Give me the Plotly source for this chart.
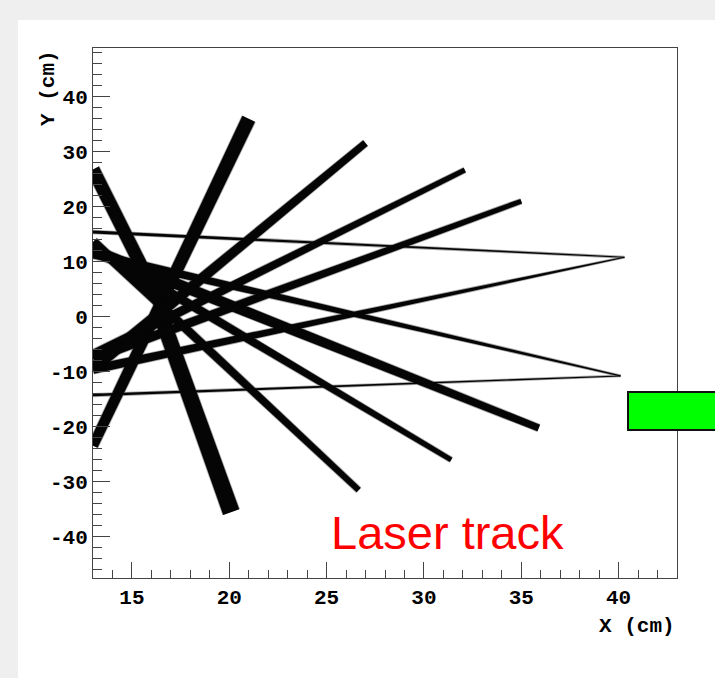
import numpy as np
import plotly.graph_objects as go

# ---------------- data (cm) ----------------
X_RANGE = [13.0, 43.0]
Y_RANGE = [-47.6, 48.9]

X_TICKS = [15, 20, 25, 30, 35, 40]
X_TICK_LABELS = ["15", "20", "25", "30", "35", "40"]
Y_TICKS = [-40, -30, -20, -10, 0, 10, 20, 30, 40]
Y_TICK_LABELS = ["-40", "-30", "-20", "-10", "0", "10", "20", "30", "40"]

# laser track segments: start (x0, y0) -> end (x1, y1)
TRACK_X0 = [13.0, 16.4, 13.0, 13.0, 13.0, 13.0, 13.0, 13.0, 13.0, 13.0, 40.3, 13.0, 40.1]
TRACK_Y0 = [-23.5, 1.0, 26.8, -9.4, -7.0, -7.6, 12.0, 12.7, 13.6, 15.4, 10.8, -14.3, -10.8]
TRACK_X1 = [21.0, 20.1, 17.0, 27.0, 32.1, 35.0, 35.9, 31.4, 26.65, 40.3, 13.0, 40.1, 13.0]
TRACK_Y1 = [36.0, -35.6, -1.5, 31.6, 26.7, 21.0, -20.3, -26.1, -31.6, 10.8, -9.6, -10.8, 11.4]

LABEL_TEXT = "Laser track"
LABEL_X, LABEL_Y = 31.2, -39.3

# ---------------- styling ----------------
W_PX, H_PX = 715, 678
M_L, M_R, M_T, M_B = 93, 38, 48, 100
PLOT_W = W_PX - M_L - M_R
PLOT_H = H_PX - M_T - M_B

# band thickness in pixels at start / end of each track
BAND_W0 = [10, 15, 13, 12, 10, 10, 12, 10, 10, 3, 1.2, 2.5, 1.2]
BAND_W1 = [14, 17, 13, 7, 5, 5, 7, 5, 6, 1.2, 9, 1.0, 9]

sx = PLOT_W / (X_RANGE[1] - X_RANGE[0])
sy = PLOT_H / (Y_RANGE[1] - Y_RANGE[0])


def band_polygon(x0, y0, x1, y1, w0, w1):
    p0 = np.array([x0 * sx, y0 * sy])
    p1 = np.array([x1 * sx, y1 * sy])
    d = p1 - p0
    d = d / np.linalg.norm(d)
    n = np.array([-d[1], d[0]])
    pts = [p0 + n * w0 / 2, p1 + n * w1 / 2, p1 - n * w1 / 2, p0 - n * w0 / 2, p0 + n * w0 / 2]
    xs = [p[0] / sx for p in pts]
    ys = [p[1] / sy for p in pts]
    return xs, ys


fig = go.Figure()

# soft grey halo then black core
for halo, col in [(1.6, "#a8a8a8"), (0, "#050505")]:
    for i in range(len(TRACK_X0)):
        xs, ys = band_polygon(TRACK_X0[i], TRACK_Y0[i], TRACK_X1[i], TRACK_Y1[i],
                              BAND_W0[i] + halo, BAND_W1[i] + halo)
        fig.add_trace(go.Scatter(x=xs, y=ys, mode="lines", fill="toself",
                                 fillcolor=col, line=dict(width=0, color=col),
                                 hoverinfo="skip", showlegend=False))

mono = dict(family="Liberation Mono, Courier New, monospace", size=21, color="black", weight="bold")

fig.update_xaxes(range=X_RANGE, tickmode="array", tickvals=X_TICKS, ticktext=X_TICK_LABELS,
                 ticks="inside", ticklen=16, tickwidth=1, tickcolor="#444",
                 minor=dict(tick0=0, dtick=1, ticks="inside", ticklen=8, tickcolor="#444"),
                 showline=True, linecolor="#444", linewidth=1, mirror=True,
                 showgrid=False, zeroline=False, tickfont=mono)
fig.update_yaxes(range=Y_RANGE, tickmode="array", tickvals=Y_TICKS, ticktext=Y_TICK_LABELS,
                 ticks="inside", ticklen=17, tickwidth=1, tickcolor="#444",
                 minor=dict(tick0=0, dtick=2, ticks="inside", ticklen=9, tickcolor="#444"),
                 showline=True, linecolor="#444", linewidth=1, mirror=True,
                 showgrid=False, zeroline=False, tickfont=mono)

fig.add_annotation(text="X (cm)", xref="paper", yref="paper", x=1.0, y=-0.092,
                   xanchor="right", yanchor="middle", showarrow=False, font=mono)
fig.add_annotation(text="Y (cm)", xref="paper", yref="paper", x=-0.077, y=1.0,
                   xanchor="center", yanchor="top", textangle=-90, showarrow=False, font=mono)
fig.add_annotation(text=LABEL_TEXT, xref="x", yref="y", x=LABEL_X, y=LABEL_Y,
                   xanchor="center", yanchor="middle", showarrow=False,
                   font=dict(family="Liberation Sans, Arial, sans-serif", size=47, color="#ff0000"))

# white canvas panel and green marker box
fig.add_shape(type="rect", xref="paper", yref="paper",
              x0=(18 - M_L) / PLOT_W, x1=1.2, y0=-0.4, y1=(H_PX - M_B - 20) / PLOT_H,
              fillcolor="white", line=dict(width=0), layer="below")
fig.add_shape(type="rect", xref="paper", yref="paper",
              x0=(628 - M_L) / PLOT_W, x1=(730 - M_L) / PLOT_W,
              y0=(H_PX - M_B - 430) / PLOT_H, y1=(H_PX - M_B - 392) / PLOT_H,
              fillcolor="#00ff00", line=dict(color="#111", width=2), layer="above")

fig.update_layout(width=W_PX, height=H_PX, autosize=False,
                  margin=dict(l=M_L, r=M_R, t=M_T, b=M_B, pad=0),
                  paper_bgcolor="#efefef", plot_bgcolor="white")

fig.write_html("out.html")
